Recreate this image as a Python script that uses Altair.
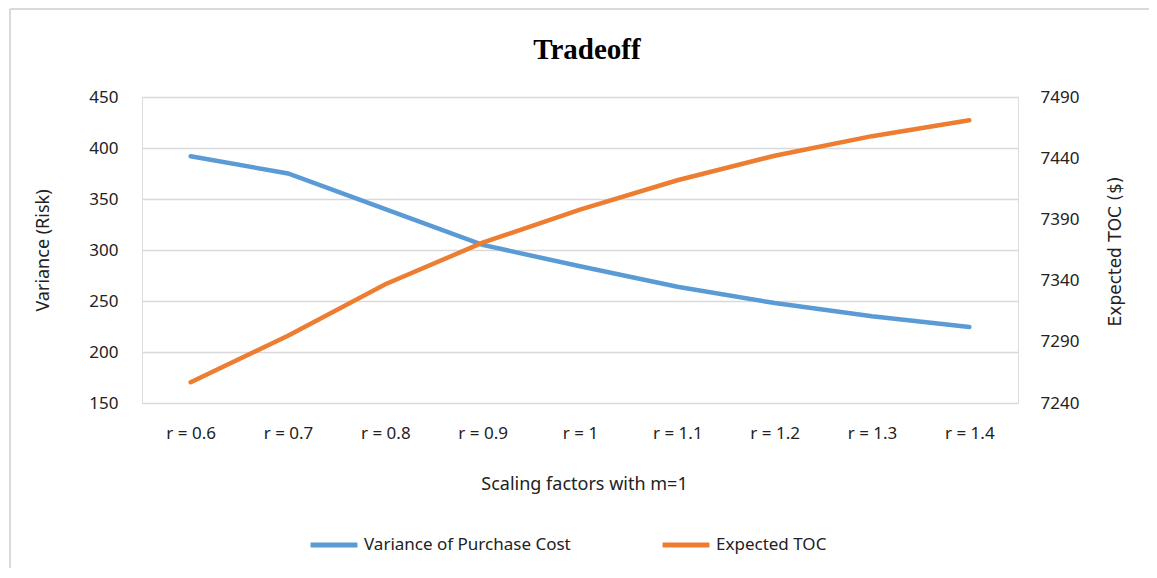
import altair as alt
import pandas as pd

categories = ["r = 0.6", "r = 0.7", "r = 0.8", "r = 0.9", "r = 1", "r = 1.1", "r = 1.2", "r = 1.3", "r = 1.4"]
variance = [392, 375, 340, 305, 284, 264, 248, 235, 224.5]
expected_toc = [7257, 7295, 7337, 7371, 7398, 7422, 7442, 7458, 7471]
series_names = ["Variance of Purchase Cost", "Expected TOC"]
colors = ["#5b9bd5", "#ed7d31"]
title_text = "Tradeoff"

df_var = pd.DataFrame({"cat": categories, "value": variance, "series": series_names[0]})
df_toc = pd.DataFrame({"cat": categories, "value": expected_toc, "series": series_names[1]})

FONT = "Noto Sans"
LBL = 17

x_enc = alt.X(
    "cat:N", sort=categories,
    scale=alt.Scale(type="point", padding=0.5),
    axis=alt.Axis(title="Scaling factors with m=1", labelAngle=0, ticks=False, domain=False,
                  grid=False, labelPadding=22, labelFont=FONT, labelFontSize=LBL,
                  labelColor="#222222", titleFont=FONT, titleFontSize=18, titleFontWeight="normal",
                  titleColor="#222222", titleX=442, titleY=81, titleBaseline="middle"),
)

color_enc = alt.Color(
    "series:N",
    scale=alt.Scale(domain=series_names, range=colors),
    legend=alt.Legend(title=None, orient="none", direction="horizontal", legendX=166, legendY=422,
                      symbolType="stroke", symbolSize=2200, symbolStrokeWidth=5,
                      labelFont=FONT, labelFontSize=LBL, labelColor="#222222", labelLimit=0,
                      columnPadding=81, labelOffset=4),
)

left = alt.Chart(df_var).mark_line(strokeWidth=4.5, strokeCap="round").encode(
    x=x_enc,
    y=alt.Y("value:Q", scale=alt.Scale(domain=[150, 450], nice=False, zero=False),
            axis=alt.Axis(title="Variance (Risk)", values=[150, 200, 250, 300, 350, 400, 450],
                          ticks=False, domain=False, gridColor="#d9d9d9", gridWidth=1.5,
                          labelPadding=24, labelFont=FONT, labelFontSize=LBL, labelColor="#222222",
                          titleFont=FONT, titleFontSize=18, titleFontWeight="normal", titleColor="#222222",
                          titleX=-99, titleY=153, titleAngle=-90, titleAlign="center",
                          titleBaseline="middle")),
    color=color_enc,
)

right = alt.Chart(df_toc).mark_line(strokeWidth=4.5, strokeCap="round").encode(
    x=x_enc,
    y=alt.Y("value:Q", scale=alt.Scale(domain=[7240, 7490], nice=False, zero=False),
            axis=alt.Axis(title="Expected TOC ($)", orient="right",
                          values=[7240, 7290, 7340, 7390, 7440, 7490], format="d",
                          ticks=False, domain=False, grid=False,
                          labelPadding=22, labelFont=FONT, labelFontSize=LBL, labelColor="#222222",
                          titleFont="DejaVu Sans", titleFontSize=17, titleFontWeight="normal",
                          titleColor="#222222", titleX=97, titleY=154, titleAngle=-90,
                          titleAlign="center", titleBaseline="middle")),
    color=color_enc,
)

border_top = alt.Chart(df_var).mark_rule(color="#d9d9d9", strokeWidth=1.5).encode(
    x=alt.value(-132), x2=alt.value(1020), y=alt.value(-88)
)
border_left = alt.Chart(df_var).mark_rule(color="#d9d9d9", strokeWidth=1.5).encode(
    x=alt.value(-132), y=alt.value(-88), y2=alt.value(480)
)
title_mark = alt.Chart(pd.DataFrame({"t": [title_text]})).mark_text(
    font="Liberation Serif", fontSize=29, fontWeight="bold", color="#000000",
    align="center", baseline="alphabetic"
).encode(x=alt.value(445), y=alt.value(-38), text="t:N")

chart = alt.layer(border_top, border_left, title_mark, left, right).resolve_scale(y="independent").properties(
    width=876, height=306,
    autosize=alt.AutoSizeParams(type="none"),
    padding={"left": 134, "top": 89, "right": 131, "bottom": 165},
).configure_view(stroke=None).configure(background="white")

chart.save("out.html", embed_options={"renderer": "svg", "actions": False})
